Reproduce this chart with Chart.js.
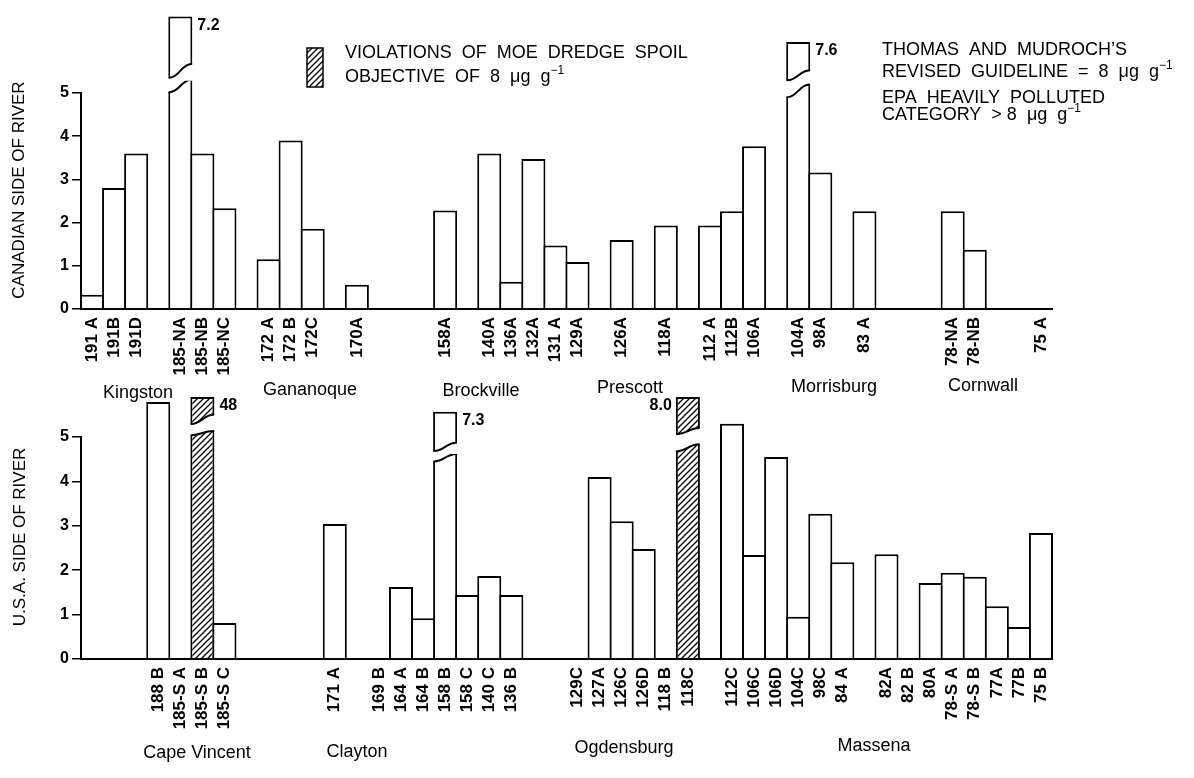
<!DOCTYPE html>
<html>
<head>
<meta charset="utf-8">
<script src="https://cdn.jsdelivr.net/npm/chart.js@4/dist/chart.umd.min.js"></script>
<style>
  body { margin: 0; background: #fff; width: 1194px; height: 778px; overflow: hidden; position: relative; }
  canvas { position: absolute; left: 0; }
  #can { top: 0; }
  #usa { top: 380px; }
</style>
</head>
<body>
<canvas id="can" width="1194" height="408"></canvas>
<canvas id="usa" width="1194" height="398"></canvas>
<script>
// station slots along the river, blanks are gaps between groups
const canStations = ['191 A','191B','191D','','185-NA','185-NB','185-NC','','172 A','172 B','172C','','170A','','','','158A','','140A','136A','132A','131 A','129A','','126A','','118A','','112 A','112B','106A','','104A','98A','','83 A','','','','78-NA','78-NB','','','75 A'];
const canValues = [0.33,2.8,3.6,null,7.2,3.6,2.33,null,1.15,3.9,1.86,null,0.56,null,null,null,2.28,null,3.6,0.63,3.47,1.47,1.09,null,1.6,null,1.93,null,1.93,2.26,3.77,null,7.6,3.16,null,2.26,null,null,null,2.26,1.37,null,null,0];
const canViolations = [];

const usaStations = ['','','','188 B','185-S A','185-S B','185-S C','','','','','171 A','','169 B','164 A','164 B','158 B','158 C','140 C','136 B','','','129C','127A','126C','126D','118 B','118C','','112C','106C','106D','104C','98C','84 A','','82A','82 B','80A','78-S A','78-S B','77A','77B','75 B'];
const usaValues = [null,null,null,5.79,0,48,0.81,null,null,null,null,3.04,null,0,1.62,0.92,7.3,1.44,1.87,1.44,null,null,0,4.1,3.1,2.48,0,8.0,null,5.3,2.34,4.55,0.95,3.27,2.18,null,2.36,0,1.71,1.94,1.85,1.19,0.72,2.84];
const usaViolations = ['185-S B','118C'];

const yTicks = [0,1,2,3,4,5];

// where the off-scale bars are cut (axis units)
const canBreaks = {
  '185-NA': { low: [5.02, 5.33], up: [5.33, 5.67], top: 6.77, side: 'right' },
  '104A':   { low: [4.9, 5.22],  up: [5.27, 5.52], top: 6.18, side: 'right' }
};
const usaBreaks = {
  '185-S B': { low: [5.04, 5.16], up: [5.27, 5.5],  top: 5.9,  side: 'right' },
  '158 B':   { low: [4.45, 4.64], up: [4.66, 4.87], top: 5.57, side: 'right' },
  '118C':    { low: [4.68, 4.86], up: [5.04, 5.2],  top: 5.9,  side: 'left' }
};

const FONT = '"Liberation Sans", Arial, Helvetica, sans-serif';

const tile = document.createElement('canvas');
tile.width = 6; tile.height = 6;
const tg = tile.getContext('2d');
tg.fillStyle = '#fff'; tg.fillRect(0, 0, 6, 6);
tg.strokeStyle = '#000'; tg.lineWidth = 1.3;
tg.beginPath();
tg.moveTo(-1, 7); tg.lineTo(7, -1);
tg.moveTo(-1, 1); tg.lineTo(1, -1);
tg.moveTo(5, 7); tg.lineTo(7, 5);
tg.stroke();
const hatch = tg.createPattern(tile, 'repeat');

function textRun(ctx, x, y, parts) {
  parts.forEach(([t, size, dy]) => {
    ctx.font = size + 'px ' + FONT;
    ctx.fillText(t, x, y + (dy || 0));
    x += ctx.measureText(t).width;
  });
}

function makeChart(id, stations, values, violations, breaks, cfg) {
  const broken = s => breaks[s] !== undefined;
  const fill = c => violations.includes(stations[c.dataIndex]) ? hatch : '#fff';
  const barStyle = {
    grouped: false,
    categoryPercentage: 1,
    barPercentage: 1.09,
    backgroundColor: fill,
    borderColor: '#000',
    borderWidth: 2,
    clip: false
  };

  const breakPlugin = {
    id: 'breaks',
    afterDatasetsDraw(chart) {
      const ctx = chart.ctx, y = chart.scales.y;
      const meta = chart.getDatasetMeta(1);
      ctx.save();
      Object.keys(breaks).forEach(name => {
        const i = stations.indexOf(name), b = breaks[name];
        const el = meta.data[i];
        const x0 = el.x - el.width / 2 + 1, x1 = el.x + el.width / 2 - 1, w = x1 - x0;
        // lower piece: wavy top
        const lL = y.getPixelForValue(b.low[0]), lR = y.getPixelForValue(b.low[1]);
        ctx.fillStyle = '#fff';
        ctx.beginPath();
        ctx.moveTo(x0 - 2, lR - 2); ctx.lineTo(x1 + 2, lR - 2); ctx.lineTo(x1 + 2, lR + 1); ctx.lineTo(x1, lR + 1);
        ctx.bezierCurveTo(x0 + w * 0.55, lR + 1, x0 + w * 0.45, lL, x0, lL);
        ctx.lineTo(x0 - 2, lL); ctx.closePath(); ctx.fill();
        ctx.strokeStyle = '#000'; ctx.lineWidth = 2; ctx.lineCap = 'round';
        ctx.beginPath();
        ctx.moveTo(x0, lL);
        ctx.bezierCurveTo(x0 + w * 0.45, lL, x0 + w * 0.55, lR + 1, x1, lR + 1);
        ctx.stroke();
        // upper piece: wavy bottom
        const uL = y.getPixelForValue(b.up[0]), uR = y.getPixelForValue(b.up[1]);
        ctx.beginPath();
        ctx.moveTo(x0 - 2, uL + 2); ctx.lineTo(x1 + 2, uL + 2); ctx.lineTo(x1 + 2, uR); ctx.lineTo(x1, uR);
        ctx.bezierCurveTo(x0 + w * 0.55, uR, x0 + w * 0.45, uL - 1, x0, uL - 1);
        ctx.lineTo(x0 - 2, uL - 1); ctx.closePath(); ctx.fill();
        ctx.beginPath();
        ctx.moveTo(x0, uL - 1);
        ctx.bezierCurveTo(x0 + w * 0.45, uL - 1, x0 + w * 0.55, uR, x1, uR);
        ctx.stroke();
        // value label
        const v = values[i];
        const txt = v >= 10 ? String(v) : v.toFixed(1);
        const ty = y.getPixelForValue(b.top) + 9;
        ctx.fillStyle = '#000';
        ctx.font = 'bold 16px ' + FONT;
        ctx.textBaseline = 'middle';
        if (b.side === 'left') { ctx.textAlign = 'right'; ctx.fillText(txt, x0 - 5, ty); }
        else { ctx.textAlign = 'left'; ctx.fillText(txt, x1 + 6, ty); }
      });
      ctx.restore();
    }
  };

  const notesPlugin = {
    id: 'notes',
    afterDraw(chart) {
      const ctx = chart.ctx;
      ctx.save();
      ctx.fillStyle = '#000';
      ctx.textBaseline = 'middle';
      ctx.textAlign = 'center';
      ctx.save();
      ctx.translate(cfg.title[1], cfg.title[2]);
      ctx.rotate(-Math.PI / 2);
      ctx.font = '17px ' + FONT;
      ctx.fillText(cfg.title[0], 0, 0);
      ctx.restore();
      ctx.textBaseline = 'alphabetic';
      ctx.font = '18px ' + FONT;
      cfg.towns.forEach(([t, x, yy]) => ctx.fillText(t, x, yy));
      if (cfg.legend) cfg.legend(ctx);
      ctx.restore();
    }
  };

  return new Chart(document.getElementById(id), {
    type: 'bar',
    data: {
      labels: stations,
      datasets: [
        Object.assign({ data: values.map((v, i) => broken(stations[i]) ? null : v), borderSkipped: 'start' }, barStyle),
        Object.assign({ data: stations.map(s => broken(s) ? [0, breaks[s].low[1]] : null), borderSkipped: 'start' }, barStyle),
        Object.assign({ data: stations.map(s => broken(s) ? [breaks[s].up[0], breaks[s].top] : null), borderSkipped: false }, barStyle)
      ]
    },
    options: {
      responsive: false,
      animation: false,
      events: [],
      layout: { padding: { top: cfg.top, right: 142, left: 0, bottom: 0 } },
      plugins: { legend: { display: false }, tooltip: { enabled: false }, colors: { enabled: false } },
      scales: {
        x: {
          z: 1,
          grid: { display: false },
          border: { color: '#000', width: 2 },
          ticks: { autoSkip: false, minRotation: 90, maxRotation: 90, padding: 0, color: '#000', font: { family: FONT, size: 17, weight: 'bold' } },
          afterFit: s => { s.height = cfg.xh; }
        },
        y: {
          z: 1,
          min: 0, max: 5,
          afterBuildTicks: s => { s.ticks = yTicks.map(v => ({ value: v })); },
          ticks: { padding: 3, color: '#000', font: { family: FONT, size: 16, weight: 'bold' } },
          grid: { drawOnChartArea: false, drawTicks: true, tickLength: 9, color: '#000', lineWidth: 1.5 },
          border: { color: '#000', width: 2 },
          afterFit: s => { s.width = 81; }
        }
      }
    },
    plugins: [breakPlugin, notesPlugin]
  });
}

makeChart('can', canStations, canValues, canViolations, canBreaks, {
  top: 93, xh: 99,
  title: ['CANADIAN SIDE OF RIVER', 19, 190],
  towns: [['Kingston', 138, 398], ['Gananoque', 310, 395], ['Brockville', 481, 396], ['Prescott', 630, 393], ['Morrisburg', 834, 392], ['Cornwall', 983, 391]],
  legend: ctx => {
    ctx.fillStyle = hatch;
    ctx.fillRect(307, 48, 16, 39);
    ctx.strokeStyle = '#000'; ctx.lineWidth = 1.5;
    ctx.strokeRect(307, 48, 16, 39);
    ctx.fillStyle = '#000';
    ctx.textAlign = 'left';
    textRun(ctx, 345, 58, [['VIOLATIONS  OF  MOE  DREDGE  SPOIL', 18]]);
    textRun(ctx, 345, 82, [['OBJECTIVE  OF  8  \u03bcg  g', 18], ['\u22121', 12, -8]]);
    textRun(ctx, 882, 55, [['THOMAS  AND  MUDROCH\u2019S', 18]]);
    textRun(ctx, 882, 77, [['REVISED  GUIDELINE  =  8  \u03bcg  g', 18], ['\u22121', 12, -8]]);
    textRun(ctx, 882, 103, [['EPA  HEAVILY  POLLUTED', 18]]);
    textRun(ctx, 882, 120, [['CATEGORY  > 8  \u03bcg  g', 18], ['\u22121', 12, -8]]);
  }
});

makeChart('usa', usaStations, usaValues, usaViolations, usaBreaks, {
  top: 57, xh: 119,
  title: ['U.S.A. SIDE OF RIVER', 20, 157],
  towns: [['Cape Vincent', 197, 378], ['Clayton', 357, 377], ['Ogdensburg', 624, 373], ['Massena', 874, 371]]
});
</script>
</body>
</html>
